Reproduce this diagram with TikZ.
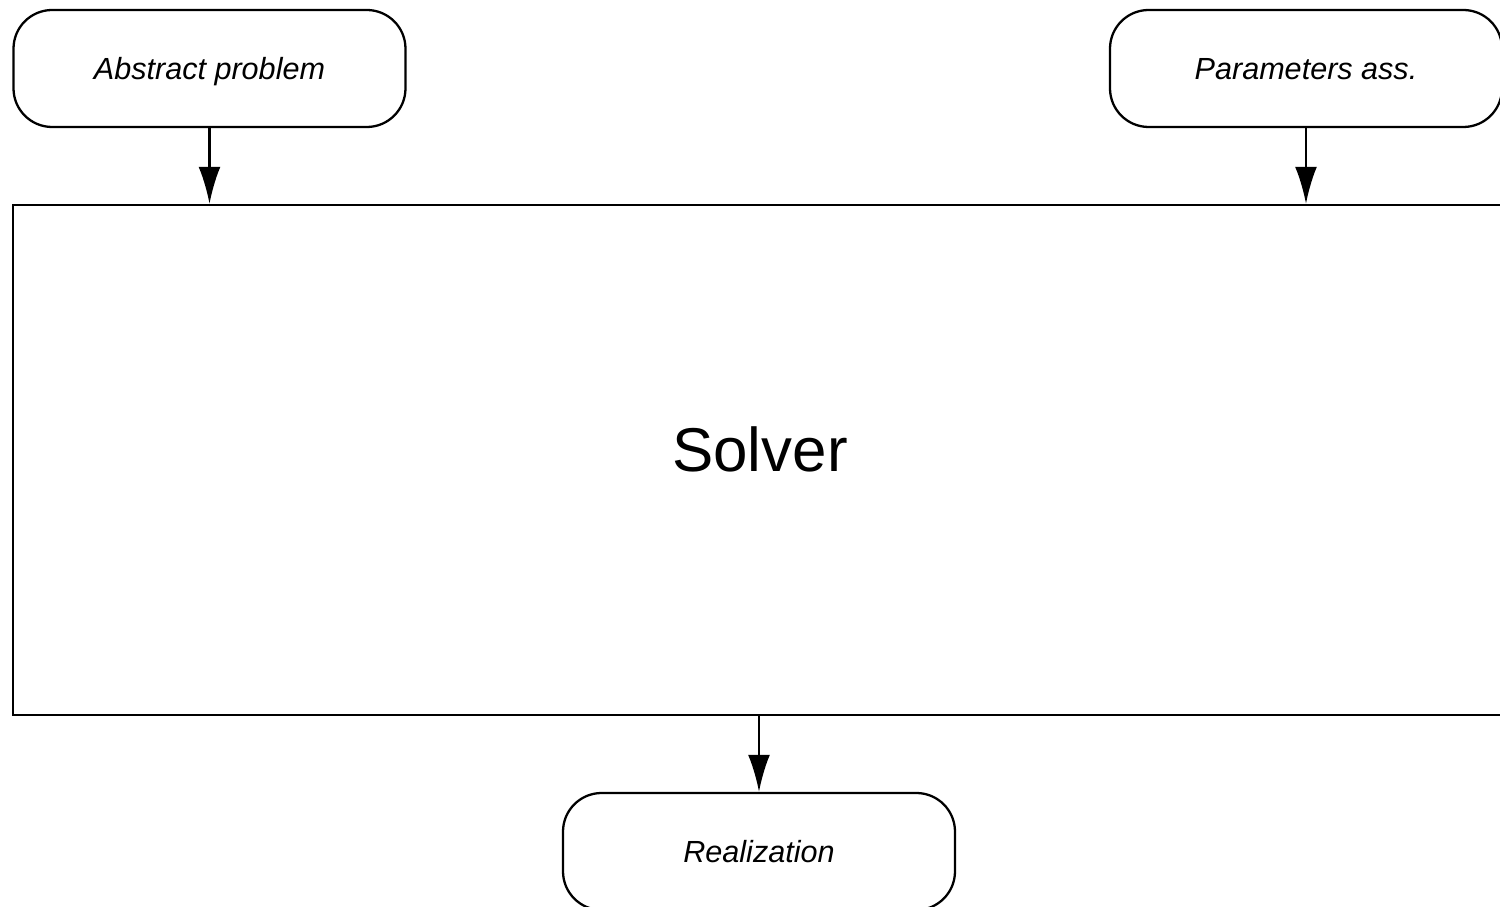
\documentclass[tikz,border=0pt]{standalone}
\usepackage{fontspec}
\setmainfont{Liberation Sans}
\usetikzlibrary{arrows.meta}

\begin{document}
\begin{tikzpicture}[
		io/.style={draw, line width=0.65pt, rounded corners=11pt, minimum width=3.92cm, minimum height=1.17cm, text height=6.5pt, text depth=0pt, font=\fontsize{8.7}{11}\selectfont\itshape},
		block/.style={draw, line width=0.65pt, minimum width=14.94cm, minimum height=5.1cm, text height=13pt, text depth=6.2pt, font=\fontsize{17.6}{22}\selectfont},
		flow/.style={line width=0.65pt, -{Latex[length=10.5pt, width=6.2pt]}}
	]
		\useasboundingbox (0, 0) rectangle (15, -9.07);

		\node[io] (abstract) at (2.095, -0.685) {Abstract problem};
		\node[io] (params) at (13.06, -0.685) {Parameters ass.};
		\node[block] (solver) at (7.6, -4.6) {Solver};
		\node[io] (real) at (7.59, -8.515) {Realization};

		\draw[flow] (abstract) -- (abstract |- solver.north);
		\draw[flow] (params) -- (params |- solver.north);
		\draw[flow] (solver.south -| real) -- (real);
	\end{tikzpicture}
\end{document}
